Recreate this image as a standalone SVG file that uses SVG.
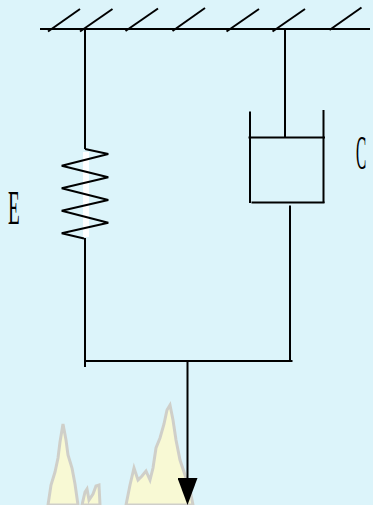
<svg xmlns="http://www.w3.org/2000/svg" width="373" height="505" viewBox="0 0 373 505">
  <style>
    .ln { stroke: #000; stroke-width: 2; fill: none; }
    .lbl { font-family: "Liberation Serif", serif; font-size: 48px; fill: #000; }
    .flame { fill: #F8F9D4; stroke: #CFCFC9; stroke-width: 3; stroke-linejoin: miter; }
  </style>
  <defs>
    <marker id="arrowhead" markerWidth="28" markerHeight="20" refX="0" refY="10" orient="auto" markerUnits="userSpaceOnUse">
      <path d="M0,0 L27,10 L0,20 Z" fill="#000"/>
    </marker>
  </defs>

  <rect width="373" height="505" fill="#DCF4FA"/>

  <!-- faint flame watermark -->
  <g id="flames">
    <polygon class="flame" points="48,505 51,485 55,472 58,458 60,442 63,424 66,440 68,455 72,468 75,484 78,505"/>
    <polygon class="flame" points="82,505 85,492 87,489 89,500 93,494 96,486 99,485 100,505"/>
    <polygon class="flame" points="126,505 130,485 134,468 138,480 142,476 146,471 150,480 153,468 156,448 160,438 164,424 167,410 170,405 173,420 176,440 180,460 185,475 190,490 193,505"/>
  </g>

  <!-- fixed support -->
  <g id="support">
    <line class="ln" x1="40" y1="29" x2="370" y2="29"/>
    <line class="ln" x1="48" y1="31.5" x2="80" y2="9"/>
    <line class="ln" x1="80" y1="31.5" x2="112.5" y2="9"/>
    <line class="ln" x1="125.5" y1="31" x2="158" y2="8.5"/>
    <line class="ln" x1="172.5" y1="31" x2="205" y2="8"/>
    <line class="ln" x1="226.5" y1="31.5" x2="259" y2="9"/>
    <line class="ln" x1="272.5" y1="31.5" x2="305" y2="9"/>
    <line class="ln" x1="329.5" y1="30" x2="361.5" y2="7.5"/>
  </g>

  <!-- spring element E -->
  <g id="spring">
    <line class="ln" x1="85" y1="29" x2="85" y2="149"/>
    <rect x="83" y="152" width="6" height="85" fill="#FFFFFF"/>
    <polyline class="ln" points="85,149 108.3,154 61.7,165.7 108.3,177.3 61.7,188.3 108.3,200 61.7,210.7 108.3,222.7 61.7,233.3 84,238.5"/>
    <line class="ln" x1="85" y1="238" x2="85" y2="367"/>
    <text class="lbl" transform="translate(8,223.5) scale(0.4,1)">E</text>
  </g>

  <!-- dashpot element C -->
  <g id="dashpot">
    <line class="ln" x1="285" y1="29" x2="285" y2="137.5"/>
    <line class="ln" x1="248.5" y1="137.5" x2="325" y2="137.5"/>
    <line class="ln" x1="250" y1="111.5" x2="250" y2="203"/>
    <line class="ln" x1="323.5" y1="110" x2="323.5" y2="203"/>
    <line class="ln" x1="251.5" y1="202.5" x2="324.5" y2="202.5"/>
    <line class="ln" x1="290" y1="205.5" x2="290" y2="361"/>
    <text class="lbl" transform="translate(356,168.5) scale(0.32,1)">C</text>
  </g>

  <!-- connectors -->
  <g id="connectors">
    <line class="ln" x1="85" y1="361" x2="292.5" y2="361"/>
    <line class="ln" x1="187.5" y1="361" x2="187.5" y2="478" marker-end="url(#arrowhead)"/>
  </g>
</svg>
